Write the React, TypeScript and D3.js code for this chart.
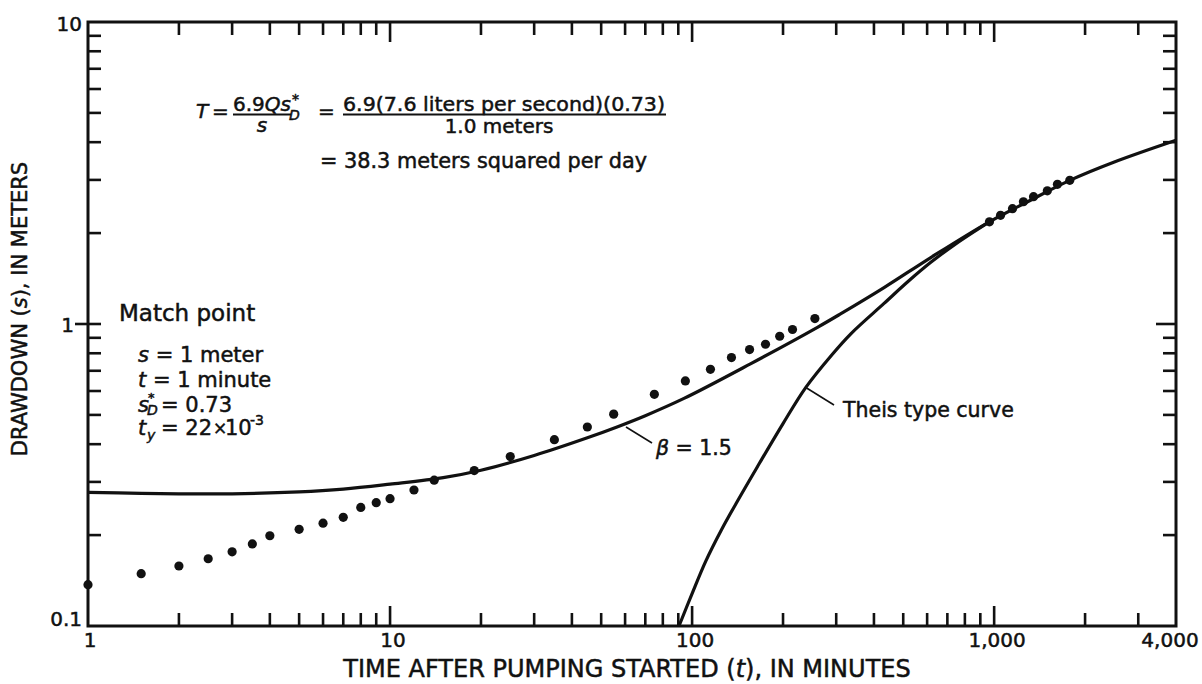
import * as d3 from "d3";

// observed drawdown (s, meters) vs time after pumping started (t, minutes)
const obsTime = [1, 1.5, 2, 2.5, 3, 3.5, 4, 5, 6, 7, 8, 9, 10, 12, 14, 19, 25, 35, 45, 55, 75, 95, 115, 135, 155, 175, 195, 215, 255, 965, 1050, 1150, 1250, 1350, 1500, 1620, 1780];
const obsDrawdown = [0.137, 0.149, 0.158, 0.167, 0.176, 0.187, 0.199, 0.209, 0.219, 0.229, 0.247, 0.256, 0.264, 0.282, 0.304, 0.327, 0.364, 0.414, 0.456, 0.503, 0.585, 0.648, 0.708, 0.774, 0.823, 0.857, 0.911, 0.959, 1.042, 2.18, 2.29, 2.41, 2.54, 2.64, 2.76, 2.9, 2.99];

// type curve for beta = 1.5
const betaTime = [1, 1.5, 2, 3, 5, 7, 10, 15, 20, 30, 45, 57, 70, 94, 156, 260, 310, 432, 617, 964, 1300, 1780, 2500, 4000];
const betaDrawdown = [0.277, 0.275, 0.274, 0.274, 0.278, 0.284, 0.295, 0.31, 0.328, 0.367, 0.42, 0.458, 0.497, 0.567, 0.738, 0.975, 1.08, 1.32, 1.66, 2.18, 2.55, 2.99, 3.44, 4.06];

// Theis type curve
const theisTime = [90.5, 100, 111, 125, 140, 164, 200, 238, 290, 336, 432, 522, 617, 750, 964];
const theisDrawdown = [0.1, 0.128, 0.164, 0.208, 0.255, 0.335, 0.468, 0.617, 0.79, 0.93, 1.17, 1.39, 1.6, 1.85, 2.18];

const xTickValues = [1, 10, 100, 1000, 4000];
const xTickLabels = ["1", "10", "100", "1,000", "4,000"];
const yTickValues = [0.1, 1, 10];
const yTickLabels = ["0.1", "1", "10"];

const W = 1202, H = 684;
const L = 88, R = 1176, T = 22, B = 626;
const FONT = "'DejaVu Sans', sans-serif";
const INK = "#111";

const isDecade = (v: number) => Math.abs(Math.log10(v) - Math.round(Math.log10(v))) < 1e-9;

export default function App() {
  const x = d3.scaleLog().domain([1, 4000]).range([L, R]);
  const y = d3.scaleLog().domain([0.1, 10]).range([B, T]);

  const line = d3.line<[number, number]>()
    .x(d => x(d[0]))
    .y(d => y(d[1]))
    .curve(d3.curveCatmullRom.alpha(0.5));

  const betaPath = line(betaTime.map((t, i) => [t, betaDrawdown[i]] as [number, number])) || "";
  const theisPath = line(theisTime.map((t, i) => [t, theisDrawdown[i]] as [number, number])) || "";

  const xTicks = x.ticks().filter(t => t > 1 && t < 4000);
  const yTicks = y.ticks().filter(v => v > 0.1 && v < 10);

  // slight outline makes the text as heavy as the printed figure
  const txt = { fontFamily: FONT, fill: INK, stroke: INK, strokeWidth: 0.5 };

  return (
    <svg width={W} height={H} style={{ position: "absolute", left: 0, top: 0, background: "#fff" }}>
      <rect x={0} y={0} width={W} height={H} fill="#fff" />

      {/* ticks, all pointing inward */}
      <g stroke={INK} strokeWidth={2.6}>
        {xTicks.map(t => {
          const len = isDecade(t) ? 20 : 13;
          return (
            <g key={"xt" + t}>
              <line x1={x(t)} x2={x(t)} y1={B} y2={B - len} />
              <line x1={x(t)} x2={x(t)} y1={T} y2={T + len} />
            </g>
          );
        })}
        {yTicks.map(v => {
          const major = isDecade(v);
          return (
            <g key={"yt" + v}>
              <line x1={major ? L - 13 : L} x2={L + 13} y1={y(v)} y2={y(v)} />
              <line x1={R} x2={R - (major ? 20 : 13)} y1={y(v)} y2={y(v)} />
            </g>
          );
        })}
      </g>

      {/* frame */}
      <rect x={L} y={T} width={R - L} height={B - T} fill="none" stroke={INK} strokeWidth={3} />

      {/* curves */}
      <path d={betaPath} fill="none" stroke={INK} strokeWidth={3.2} />
      <path d={theisPath} fill="none" stroke={INK} strokeWidth={3.2} />

      {/* observed points */}
      {obsTime.map((t, i) => (
        <circle key={"p" + i} cx={x(t)} cy={y(obsDrawdown[i])} r={4.6} fill={INK} />
      ))}

      {/* tick labels */}
      {xTickValues.map((t, i) => (
        <text key={"xl" + t} x={i === xTickValues.length - 1 ? x(t) - 6 : x(t) + (i === 0 ? 2 : 3)} y={647}
          textAnchor="middle" fontSize={20} {...txt}>{xTickLabels[i]}</text>
      ))}
      {yTickValues.map((v, i) => (
        <text key={"yl" + v} x={v === 1 ? L - 14 : L - 6} y={y(v) + (v === 10 ? 9 : v === 1 ? 8 : 0)}
          textAnchor="end" fontSize={20} {...txt}>{yTickLabels[i]}</text>
      ))}

      {/* axis titles */}
      <text x={627} y={677} textAnchor="middle" fontSize={24} {...txt}>
        TIME AFTER PUMPING STARTED (<tspan fontStyle="italic">t</tspan>), IN MINUTES
      </text>
      <text transform="translate(27,309) rotate(-90)" textAnchor="middle" fontSize={21} {...txt}>
        DRAWDOWN (<tspan fontStyle="italic">s</tspan>), IN METERS
      </text>

      {/* transmissivity formula */}
      <g {...txt} fontSize={20}>
        <text x={196} y={118} fontStyle="italic">T</text>
        <text x={212} y={118}>=</text>
        <text x={233} y={111}>6.9<tspan fontStyle="italic">Qs</tspan></text>
        <text x={292} y={104} fontSize={14}>*</text>
        <text x={289} y={120} fontSize={14} fontStyle="italic">D</text>
        <line x1={233} x2={291} y1={114.5} y2={114.5} stroke={INK} strokeWidth={2.2} />
        <text x={262} y={132} textAnchor="middle" fontStyle="italic">s</text>
        <text x={318} y={118}>=</text>
        <text x={343} y={111} textLength={322} lengthAdjust="spacingAndGlyphs">6.9(7.6 liters per second)(0.73)</text>
        <line x1={343} x2={666} y1={114.5} y2={114.5} stroke={INK} strokeWidth={2.2} />
        <text x={499} y={133} textAnchor="middle">1.0 meters</text>
        <text x={320} y={168} fontSize={20.8}>= 38.3 meters squared per day</text>
      </g>

      {/* match point block */}
      <g {...txt} fontSize={21}>
        <text x={119} y={321} fontSize={23}>Match point</text>
        <text x={138} y={362}><tspan fontStyle="italic">s</tspan> = 1 meter</text>
        <text x={138} y={387}><tspan fontStyle="italic">t</tspan> = 1 minute</text>
        <text x={138} y={412} fontStyle="italic">s</text>
        <text x={148} y={402} fontSize={13}>*</text>
        <text x={147} y={415} fontSize={14} fontStyle="italic">D</text>
        <text x={161} y={412}>= 0.73</text>
        <text x={138} y={435} fontStyle="italic">t</text>
        <text x={147} y={440} fontSize={14} fontStyle="italic">y</text>
        <text x={161} y={435}>= 22</text>
        <text x={213} y={434} fontSize={17}>×</text>
        <text x={225} y={435}>10</text>
        <text x={250} y={425} fontSize={14}>-3</text>
      </g>

      {/* curve labels */}
      <line x1={626} y1={427} x2={652} y2={443} stroke={INK} strokeWidth={1.6} />
      <text x={656} y={455} fontSize={20.5} {...txt}><tspan fontStyle="italic">β</tspan> = 1.5</text>
      <line x1={805} y1={387} x2={834} y2={405} stroke={INK} strokeWidth={1.6} />
      <text x={843} y={417} fontSize={20.5} {...txt}>Theis type curve</text>
    </svg>
  );
}
